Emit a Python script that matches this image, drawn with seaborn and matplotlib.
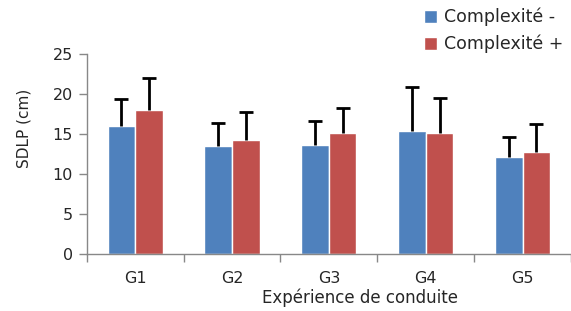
import numpy as np
import pandas as pd
import matplotlib
matplotlib.use("Agg")
import matplotlib.pyplot as plt
import seaborn as sns

groups = ["G1", "G2", "G3", "G4", "G5"]
series = ["Complexité -", "Complexité +"]
mean_low = [16.0, 13.5, 13.6, 15.4, 12.1]
mean_high = [18.0, 14.3, 15.1, 15.1, 12.8]
sd_low = [3.4, 2.9, 3.0, 5.5, 2.5]
sd_high = [4.0, 3.5, 3.2, 4.4, 3.5]
colors = ["#4F81BD", "#C0504D"]

df = pd.DataFrame({
    "group": groups * 2,
    "cond": [series[0]] * 5 + [series[1]] * 5,
    "sdlp": mean_low + mean_high,
})

sns.set_style("white")
plt.rcParams["font.family"] = ["DejaVu Sans"]

fig = plt.figure(figsize=(5.71, 3.11), dpi=100)
ax = fig.add_axes([0.152, 0.183, 0.848, 0.643])

sns.barplot(data=df, x="group", y="sdlp", hue="cond", palette=colors,
            width=0.57, saturation=1, errorbar=None, ax=ax, legend=True)

# upward-only error bars on top of each bar
sds = [sd_low, sd_high]
bar_sets = list(ax.containers)
for i, cont in enumerate(bar_sets):
    xs = [p.get_x() + p.get_width() / 2 for p in cont.patches]
    hs = [p.get_height() for p in cont.patches]
    eb = ax.errorbar(xs, hs, yerr=[np.zeros(len(hs)), sds[i]], fmt="none",
                     ecolor="black", elinewidth=2, capsize=5, capthick=2, zorder=1)
    eb[1][0].set_visible(False)  # hide lower cap

ax.set_ylim(0, 25)
ax.set_xlim(-0.5, 4.5)
ax.set_yticks([0, 5, 10, 15, 20, 25])
ax.set_xticks(np.arange(-0.5, 5, 1))
ax.set_xticklabels([])
ax.set_xticks(range(5), minor=True)
ax.set_xticklabels(groups, minor=True)
ax.tick_params(axis="x", which="major", bottom=True, length=6, color="#888888", width=1)
ax.tick_params(axis="x", which="minor", bottom=False, length=0, pad=12, labelsize=11.5)
ax.tick_params(axis="y", left=True, length=6, color="#888888", width=1, labelsize=11.5, pad=4)

for s in ["top", "right"]:
    ax.spines[s].set_visible(False)
for s in ["left", "bottom"]:
    ax.spines[s].set_color("#888888")
    ax.spines[s].set_linewidth(1)

ax.set_ylabel("SDLP (cm)", fontsize=11)
ax.yaxis.set_label_coords(-0.115, 0.63)
ax.set_xlabel("Expérience de conduite", fontsize=12)
ax.xaxis.set_label_coords(0.564, -0.17)

ax.legend(loc="upper right", bbox_to_anchor=(1.0, 1.0), bbox_transform=fig.transFigure,
          frameon=False, fontsize=12.5, handlelength=0.75, handleheight=0.75,
          handletextpad=0.4, labelspacing=0.5, borderaxespad=0.25, borderpad=0.2)

fig.savefig("out.png", dpi=100)
